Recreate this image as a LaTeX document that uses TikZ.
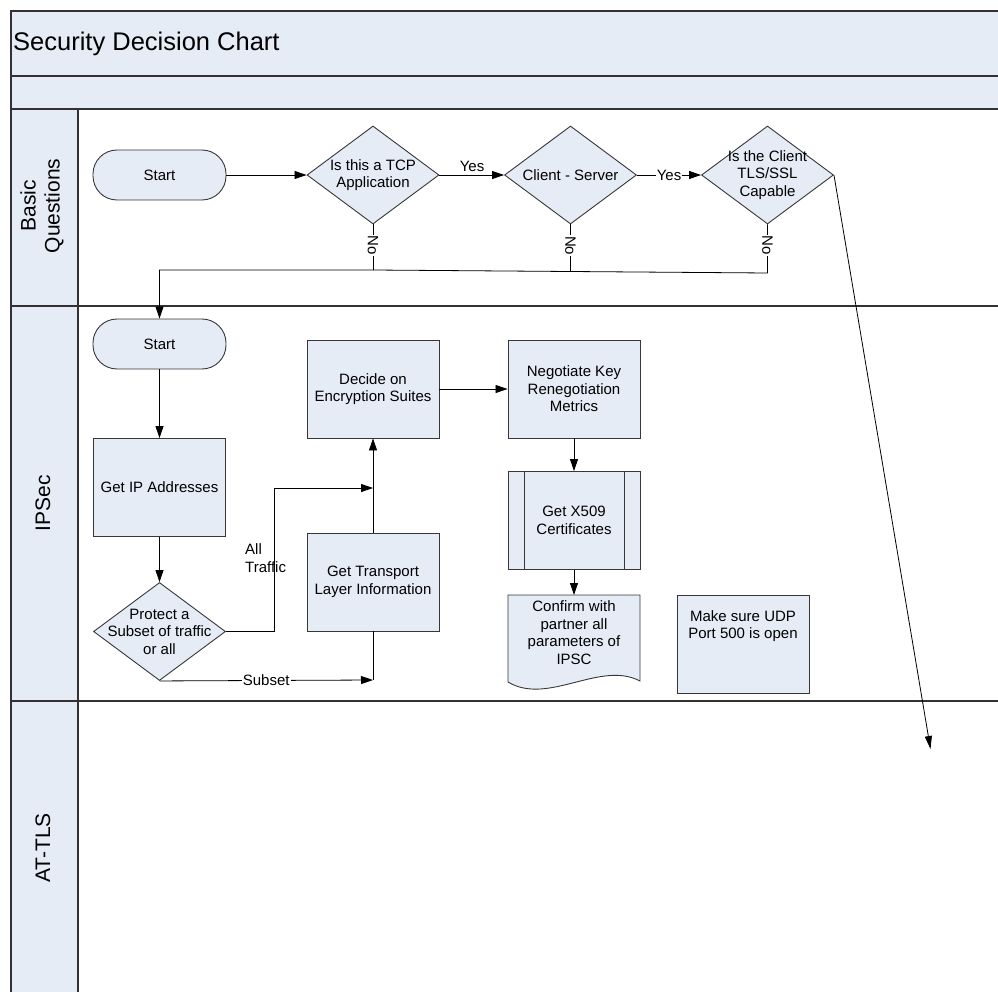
\documentclass[tikz,border=0pt]{standalone}
\usepackage{fontspec}
\setmainfont{Liberation Sans}
\usetikzlibrary{arrows.meta,shapes.geometric}
\definecolor{fillc}{RGB}{229,236,246}
\definecolor{edgec}{RGB}{55,55,55}
\definecolor{lanec}{RGB}{50,50,50}
\tikzset{
  txt/.style={font=\fontsize{15}{17.5}\selectfont, align=center, inner sep=0pt},
  box/.style={draw=edgec, fill=fillc, line width=0.9pt, minimum width=132pt, minimum height=98pt, inner sep=0pt},
  term/.style={draw=edgec, fill=fillc, line width=0.9pt, minimum width=133pt, minimum height=50pt, rounded corners=24pt, inner sep=0pt},
  dia/.style={draw=edgec, fill=fillc, line width=0.9pt, diamond, minimum width=132pt, minimum height=98pt, inner sep=0pt},
  conn/.style={line width=0.8pt, black},
  arr/.style={conn, -{Triangle[length=12pt,width=8pt]}},
  lbl/.style={font=\fontsize{15}{17.5}\selectfont, fill=white, inner sep=1pt},
  nolab/.style={font=\fontsize{15}{17.5}\selectfont, fill=white, inner sep=1pt, rotate=-90},
  lanetxt/.style={font=\fontsize{21}{24}\selectfont, align=center, rotate=90},
}
\begin{document}
\begin{tikzpicture}[x=1pt,y=-1pt]
\useasboundingbox (0,0) rectangle (998,992);
\clip (0,0) rectangle (998,992);
% bands
\fill[fillc] (11,11) rectangle (1010,109);
\fill[fillc] (11,109) rectangle (78,1000);
\draw[lanec, line width=1.6pt] (1010,11) -- (11,11) -- (11,1000);
\draw[lanec, line width=1.6pt] (11,76) -- (1010,76);
\draw[lanec, line width=1.6pt] (11,109) -- (1010,109);
\draw[lanec, line width=1.6pt] (11,306) -- (1010,306);
\draw[lanec, line width=1.6pt] (11,701) -- (1010,701);
\draw[lanec, line width=1.2pt] (78,109) -- (78,1000);
\node[font=\fontsize{25.5}{30}\selectfont, anchor=west, inner sep=0pt] (title) at (13,44) {Security Decision Chart};
\node[lanetxt] (lane1) at (42,206) {Basic\\Questions};
\node[lanetxt] (lane2) at (43,503) {IPSec};
\node[lanetxt] (lane3) at (43,848) {AT-TLS};

% Basic questions
\node[term] (s1) at (159.5,175) {};
\node[txt] at (s1) {Start};
\node[dia] (d1) at (373,175) {};
\node[txt] at (d1) {Is this a TCP\\Application};
\node[dia] (d2) at (570.5,175) {};
\node[txt] at (d2) {Client - Server};
\node[dia] (d3) at (767.5,175) {};
\node[txt] at (d3) {Is the Client\\TLS/SSL\\Capable};

% IPSec
\node[term] (ipstart) at (159.5,344) {};
\node[txt] at (ipstart) {Start};
\node[box] (getip) at (159.5,487.5) {};
\node[txt] at (getip) {Get IP Addresses};
\node[dia] (prot) at (159.5,631.5) {};
\node[txt] at (prot) {Protect a\\Subset of traffic\\or all};
\node[box] (decide) at (373,389) {};
\node[txt] at (decide) {Decide on\\Encryption Suites};
\node[box] (trans) at (373,582) {};
\node[txt] at (trans) {Get Transport\\Layer Information};
\node[box] (nego) at (574,389) {};
\node[txt] at (nego) {Negotiate Key\\Renegotiation\\Metrics};
\node[box] (x509) at (574,520.5) {};
\draw[edgec, line width=0.9pt] ([xshift=17pt]x509.north west) -- ([xshift=17pt]x509.south west);
\draw[edgec, line width=0.9pt] ([xshift=-16pt]x509.north east) -- ([xshift=-16pt]x509.south east);
\node[txt] at (x509) {Get X509\\Certificates};
\coordinate (conf) at (574,595);
\draw[edgec, fill=fillc, line width=0.9pt] (508,595) -- (640,595) -- (640,681)
  .. controls (600,660) and (548,706) .. (508,682) -- cycle;
\node[txt, anchor=north] (conftxt) at (574,600.5) {Confirm with\\partner all\\parameters of\\IPSC};
\node[box] (udp) at (743,644) {};
\node[txt, anchor=north] at (743,610) {Make sure UDP\\Port 500 is open};

% Basic connectors
\coordinate (j0) at (159.5,270);
\coordinate (j1) at (373,270);
\coordinate (j2) at (570.5,271.5);
\coordinate (j3) at (767.5,273);
\coordinate (tip) at (930.5,749);

\draw[arr] (s1.east) -- (d1.west);
\draw[arr] (d1.east) -- (d2.west);
\node[lbl] (yes1) at (472,166) {Yes};
\draw[arr] (d2.east) -- node[lbl]{Yes} (d3.west);
\draw[conn] (d1.south) -- node[nolab, pos=0.46]{No} (j1);
\draw[conn] (d2.south) -- node[nolab, pos=0.45]{No} (j2);
\draw[arr] (d3.south) -- node[nolab, pos=0.43]{No} (j3) -- (j1) -- (j0) -- (ipstart.north);
\draw[conn, -{Triangle[length=13pt,width=7pt]}] (d3.east) -- (tip);

% IPSec connectors
\coordinate (m1) at (373,488);
\coordinate (m2) at (373,680);
\draw[arr] (ipstart.south) -- (getip.north);
\draw[arr] (getip.south) -- (prot.north);
\draw[arr] (prot.east) -- (274,631.5) |- (m1);
\node[font=\fontsize{15}{17.5}\selectfont, align=left, anchor=west, inner sep=0pt] (alltr) at (245,558) {All\\Traffic};
\draw[arr] (trans.north) -- (decide.south);
\draw[arr] (prot.south) -- node[lbl, pos=0.5]{Subset} (m2);
\draw[conn] (trans.south) -- (m2);
\draw[arr] (decide.east) -- (nego.west);
\draw[arr] (nego.south) -- (x509.north);
\draw[arr] (x509.south) -- (conf);
\end{tikzpicture}
\end{document}
